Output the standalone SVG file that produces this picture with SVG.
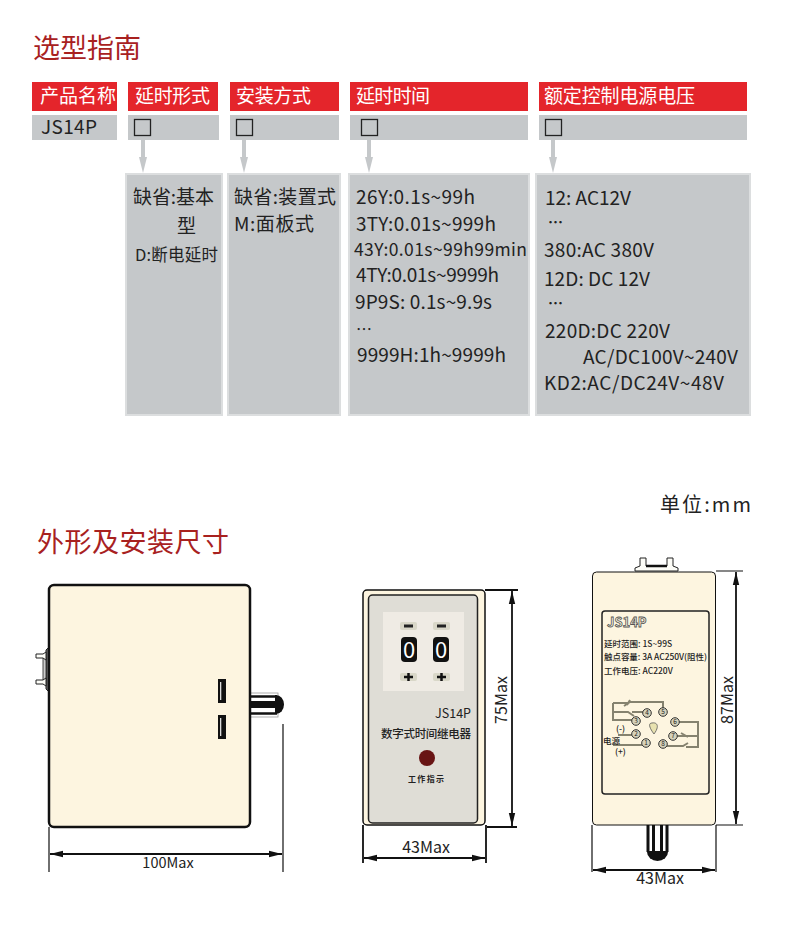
<svg xmlns="http://www.w3.org/2000/svg" width="790" height="942" viewBox="0 0 790 942">
<style>
text{font-family:"Noto Sans CJK SC","Noto Sans",sans-serif;fill:#222}
.title{font-size:27px;fill:#a8211f}
.head{font-size:19px;fill:#fff}
.opt{font-size:19px;fill:#222}
.red{fill:#e4252b}
.g{fill:#c5c8ca}
.big{fill:#c5c8ca;stroke:#dcdedf;stroke-width:2}
.chk{fill:none;stroke:#222;stroke-width:1.3}
.arrowline{stroke:#c5c8ca;stroke-width:4;fill:none}
.arrowhead{fill:#c5c8ca}
.dim{stroke:#111;stroke-width:1.8;fill:none}
.thin{stroke:#111;stroke-width:1.2;fill:none}
.dimtxt{font-size:16px;fill:#222}
.body{fill:#fdf5e0;stroke:#111}
.wire{fill:none;stroke:#85826f;stroke-width:2}
.pin{fill:#d6d2ba;stroke:#333;stroke-width:1}
.pintxt{font-size:6.500px;text-anchor:middle;fill:#222}
.info{font-size:8.500px;font-weight:500;fill:#222}
</style>
<defs>
<marker id="dimArrow" markerWidth="14" markerHeight="8" refX="13" refY="4" orient="auto-start-reverse" markerUnits="userSpaceOnUse"><path d="M0 .8L13 4L0 7.2z" fill="#111"/></marker>
</defs>

<text id="title-guide" class="title" x="33" y="58" textLength="108">选型指南</text>

<g id="col-product">
<rect class="red" x="32" y="82" width="85" height="29"/><text class="head" x="40" y="103">产品名称</text>
<rect class="g" x="32" y="115" width="85" height="25"/><text class="opt" x="41" y="134" textLength="56">JS14P</text>
</g>

<g id="col-delay-form">
<rect class="red" x="128" y="82" width="90" height="29"/><text class="head" x="135" y="103" textLength="75">延时形式</text>
<rect class="g" x="128" y="115" width="91" height="25"/><rect class="chk" x="134.500" y="119.500" width="16" height="16"/>
<rect class="big" x="126" y="174" width="96" height="241"/>
<text class="opt" x="133" y="204" textLength="81">缺省:基本</text><text class="opt" x="177" y="233">型</text>
<text x="135" y="261" font-size="16.500" textLength="83">D:断电延时</text>
</g>

<g id="col-mount">
<rect class="red" x="230" y="82" width="109" height="29"/><text class="head" x="236" y="103" textLength="75">安装方式</text>
<rect class="g" x="230" y="115" width="109" height="25"/><rect class="chk" x="236.500" y="119.500" width="16" height="16"/>
<rect class="big" x="228" y="174" width="112" height="241"/>
<text class="opt" x="234" y="204" textLength="102">缺省:装置式</text><text class="opt" x="234" y="231" textLength="80">M:面板式</text>
</g>

<g id="col-time">
<rect class="red" x="350" y="82" width="178" height="29"/><text class="head" x="356" y="103" textLength="74">延时时间</text>
<rect class="g" x="350" y="115" width="178" height="25"/><rect class="chk" x="361.500" y="119.500" width="16" height="16"/>
<rect class="big" x="349" y="174" width="180" height="241"/>
<text class="opt" x="356" y="204" textLength="119">26Y:0.1s~99h</text>
<text class="opt" x="356" y="231" textLength="140">3TY:0.01s~999h</text>
<text x="354" y="256" font-size="17.500" textLength="173">43Y:0.01s~99h99min</text>
<text class="opt" x="356" y="282" textLength="143">4TY:0.01s~9999h</text>
<text class="opt" x="355" y="309" textLength="137">9P9S: 0.1s~9.9s</text>
<text x="356" y="335" font-size="16">…</text>
<text class="opt" x="357" y="362" textLength="149">9999H:1h~9999h</text>
</g>

<g id="col-voltage">
<rect class="red" x="539" y="82" width="208" height="29"/><text class="head" x="544" y="103" textLength="151">额定控制电源电压</text>
<rect class="g" x="539" y="115" width="208" height="25"/><rect class="chk" x="545.500" y="119.500" width="16" height="16"/>
<rect class="big" x="536" y="174" width="214" height="241"/>
<text class="opt" x="545" y="205" textLength="86">12: AC12V</text>
<text x="548" y="228" font-size="15" font-weight="700">…</text>
<text class="opt" x="544" y="257" textLength="110">380:AC 380V</text>
<text class="opt" x="544" y="286" textLength="106">12D: DC 12V</text>
<text x="548" y="309" font-size="15" font-weight="700">…</text>
<text class="opt" x="545" y="338" textLength="125">220D:DC 220V</text>
<text class="opt" x="583" y="364" textLength="155">AC/DC100V~240V</text>
<text class="opt" x="544" y="390" textLength="180">KD2:AC/DC24V~48V</text>
</g>

<g id="connectors">
<path class="arrowline" d="M143 140V160M244 140V160M369 140V160M553 140V160"/>
<path class="arrowhead" d="M139 157H147L143 173zM240 157H248L244 173zM365 157H373L369 173zM549 157H557L553 173z"/>
</g>

<text id="unit" x="660" y="512" font-size="20" textLength="91">单位:mm</text>
<text id="title-dim" class="title" x="37" y="552" textLength="192">外形及安装尺寸</text>

<g id="device-side">
<path d="M46 650L48 648H50V691H48L46 689Z" fill="#666" stroke="#222"/>
<rect x="43" y="658" width="3" height="22" fill="#ccc" stroke="#222" stroke-width=".8"/>
<path d="M43 654H36V658H43L46 660V652Z" fill="#fdfdf8" stroke="#222"/>
<path d="M43 680H36V684H43L46 686V678Z" fill="#fdfdf8" stroke="#222"/>
<rect x="250" y="693" width="28" height="24" fill="#fff" stroke="#999" stroke-width=".8"/>
<path d="M250 696.500H277M250 713.500H277" stroke="#111" stroke-width="2.500"/>
<rect x="250" y="701" width="27" height="7" fill="#111"/>
<path d="M275 695H276A8 9.500 0 0 1 276 714H275Z" fill="#111"/>
<rect class="body" x="49" y="585" width="201" height="242" rx="5" stroke-width="2.500"/>
<rect x="218" y="679" width="8" height="24" fill="#111"/><rect x="220" y="682" width="1.300" height="18" fill="#ddd"/>
<rect x="218" y="715" width="8" height="24" fill="#111"/><rect x="220" y="718" width="1.300" height="18" fill="#ddd"/>
</g>

<g id="device-front">
<rect class="body" x="363" y="590" width="122" height="235" rx="4" stroke-width="1.500"/>
<rect x="368.500" y="595" width="109" height="228" rx="4" fill="#dfddd6" stroke="#222" stroke-width="1.500"/>
<rect x="383" y="612" width="81" height="79" fill="#efebe4"/>
<rect x="400" y="622" width="17" height="8" rx="2" fill="#d9d7c8"/><rect x="433" y="622" width="17" height="8" rx="2" fill="#d9d7c8"/>
<rect x="404" y="624.500" width="9" height="3" fill="#222"/><rect x="437" y="624.500" width="9" height="3" fill="#222"/>
<rect x="401" y="637" width="16" height="25" rx="4" fill="#111"/><rect x="433" y="637" width="16" height="25" rx="4" fill="#111"/>
<text x="409" y="658" font-size="22" text-anchor="middle" style="fill:#fff">0</text>
<text x="441" y="658" font-size="22" text-anchor="middle" style="fill:#fff">0</text>
<rect x="400" y="673" width="17" height="8" rx="2" fill="#d9d7c8"/><rect x="433" y="673" width="17" height="8" rx="2" fill="#d9d7c8"/>
<path d="M404 677H413M408.500 673V681M437 677H446M441.500 673V681" stroke="#111" stroke-width="2.500"/>
<text x="471" y="718" font-size="12.500" text-anchor="end">JS14P</text>
<text x="381" y="738" font-size="11.500" font-weight="500" textLength="90">数字式时间继电器</text>
<circle cx="427" cy="758" r="8" fill="#681414"/>
<text x="408" y="782" font-size="8" font-weight="700" textLength="36">工作指示</text>
</g>

<g id="device-back">
<path d="M635 571V568L640 566V558H646V566H667V558H673V566L678 568V571Z" fill="#fdfdf8" stroke="#222"/>
<path d="M646 566H667" stroke="#111" stroke-width="2.500"/>
<path d="M646 825H669V850A11.500 10 0 0 1 646 850Z" fill="#fff"/>
<path d="M648 825V852M653.500 825V852M661.500 825V852M667 825V852" stroke="#111" stroke-width="3"/>
<path d="M647 851H668V852A10.500 9 0 0 1 647 852Z" fill="#111"/>
<rect class="body" x="592.500" y="572" width="123" height="253" rx="4" stroke-width="1"/>
<rect x="602" y="611" width="107" height="183" rx="3" fill="none" stroke="#222" stroke-width="1.500"/>
<text x="607" y="627" font-size="13" font-weight="700" style="fill:#fdf5e0;stroke:#555;stroke-width:.8">JS14P</text>
<text class="info" x="604" y="647">延时范围: 1S~99S</text>
<text class="info" x="604" y="660" textLength="103">触点容量: 3A AC250V(阻性)</text>
<text class="info" x="604" y="674">工作电压: AC220V</text>
<g id="circuit">
<path class="wire" d="M663 712V702H630L624 706M630 700L627 705M613 703H628M613 703V720H636M613 712H628L634 716M632 712H647"/>
<path class="wire" d="M675 722H698V747H686M673 736H698M663 746H683L688 743M681 733L688 737M646 745H613M636 735H618"/>
<path d="M652 723C657 722 660 726 654 734C648 726 649 723 652 723Z" fill="#e8e2b0" stroke="#555" stroke-width=".8"/>
<circle class="pin" cx="647" cy="713" r="4.300"/><circle class="pin" cx="663" cy="712" r="4.300"/><circle class="pin" cx="675" cy="722" r="4.300"/><circle class="pin" cx="673" cy="736" r="4.300"/><circle class="pin" cx="663" cy="744" r="4.300"/><circle class="pin" cx="646" cy="743" r="4.300"/><circle class="pin" cx="636" cy="734" r="4.300"/><circle class="pin" cx="636" cy="721" r="4.300"/>
<text class="pintxt" x="647" y="715.300">4</text><text class="pintxt" x="663" y="714.300">5</text><text class="pintxt" x="675" y="724.300">6</text><text class="pintxt" x="673" y="738.300">7</text><text class="pintxt" x="663" y="746.300">8</text><text class="pintxt" x="646" y="745.300">1</text><text class="pintxt" x="636" y="736.300">2</text><text class="pintxt" x="636" y="723.300">3</text>
<text class="info" x="616" y="732">(-)</text><text class="info" x="603" y="744">电源</text><text class="info" x="615" y="755">(+)</text>
</g>
</g>

<g id="dimensions">
<path class="thin" d="M49 827V872M283 724V872"/>
<path class="dim" marker-start="url(#dimArrow)" marker-end="url(#dimArrow)" d="M50 854H282"/>
<text class="dimtxt" x="168" y="868" text-anchor="middle" style="font-size:14.500px">100Max</text>
<path class="dim" d="M485 590H518M487 827H517M363 825V863M486 825V863"/>
<path class="dim" marker-start="url(#dimArrow)" marker-end="url(#dimArrow)" d="M512 591V826"/>
<path class="dim" marker-start="url(#dimArrow)" marker-end="url(#dimArrow)" d="M364 858H485"/>
<text class="dimtxt" x="507" y="700" text-anchor="middle" transform="rotate(-90 507 700)">75Max</text>
<text class="dimtxt" x="426" y="853" text-anchor="middle">43Max</text>
<path class="thin" d="M716 571H743M716 825H743M592 825V872M716 825V872"/>
<path class="dim" marker-start="url(#dimArrow)" marker-end="url(#dimArrow)" d="M736 572V824"/>
<path class="dim" marker-start="url(#dimArrow)" marker-end="url(#dimArrow)" d="M593 870H715"/>
<text class="dimtxt" x="733" y="700" text-anchor="middle" transform="rotate(-90 733 700)">87Max</text>
<text class="dimtxt" x="660" y="884" text-anchor="middle">43Max</text>
</g>
</svg>
